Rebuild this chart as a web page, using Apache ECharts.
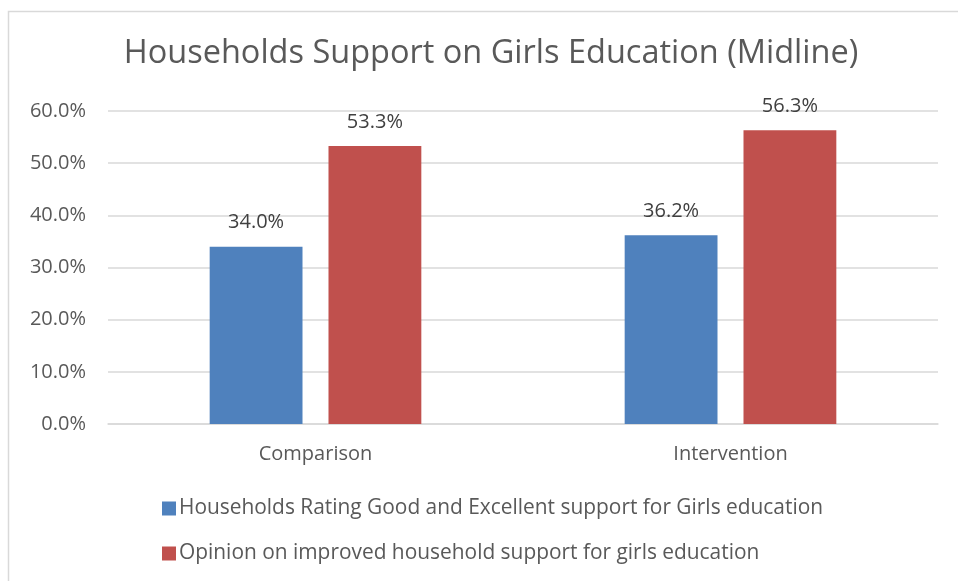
<!DOCTYPE html>
<html>
<head>
<meta charset="utf-8">
<script src="https://cdn.jsdelivr.net/npm/echarts@6/dist/echarts.min.js"></script>
<style>html,body{margin:0;padding:0;background:#fff}#c{width:958px;height:581px}</style>
</head>
<body>
<div id="c"></div>
<script>
const titleText = 'Households Support on Girls Education (Midline)';
const categories = ['Comparison', 'Intervention'];
const seriesNames = [
  'Households Rating Good and Excellent support for Girls education',
  'Opinion on improved household support for girls education'
];
const ratingValues = [34.0, 36.2];
const opinionValues = [53.3, 56.3];
const yTicks = [0, 10, 20, 30, 40, 50, 60];

const font = '"Open Sans", sans-serif';
const chart = echarts.init(document.getElementById('c'), null, {renderer: 'canvas'});
chart.setOption({
  backgroundColor: '#fff',
  animation: false,
  graphic: [{
    type: 'rect', silent: true, z: -1,
    shape: {x: 8.5, y: 11.5, width: 1200, height: 1200},
    style: {fill: 'none', stroke: '#d9d9d9', lineWidth: 1.5}
  }],
  title: {
    text: titleText, left: 486, top: 32, textAlign: 'center',
    textStyle: {fontFamily: font, fontSize: 32.5, fontWeight: 'normal', color: '#595959'}
  },
  legend: {
    orient: 'vertical', left: 157, top: 493, itemWidth: 14, itemHeight: 14, itemGap: 24,
    icon: 'rect',
    textStyle: {fontFamily: font, fontSize: 20.9, color: '#595959', padding: [0, 0, 0, -2]},
    data: seriesNames
  },
  grid: {left: 108, right: 20, top: 111, bottom: 157, containLabel: false},
  xAxis: {
    type: 'category', data: categories,
    axisLine: {lineStyle: {color: '#d9d9d9', width: 1.5}},
    axisTick: {show: false},
    axisLabel: {fontFamily: font, fontSize: 20, color: '#595959', margin: 20}
  },
  yAxis: {
    type: 'value', min: yTicks[0], max: yTicks[yTicks.length - 1], interval: 10,
    axisLine: {show: false}, axisTick: {show: false},
    splitLine: {lineStyle: {color: '#d9d9d9', width: 1.5}},
    axisLabel: {fontFamily: font, fontSize: 20, color: '#595959', margin: 22,
      formatter: v => v.toFixed(1) + '%'}
  },
  series: [
    {
      name: seriesNames[0], type: 'bar', data: ratingValues,
      barGap: '28%', barCategoryGap: '49%',
      itemStyle: {color: '#4f81bd'},
      label: {show: true, position: 'top', distance: 14, fontFamily: font, fontSize: 20, color: '#404040',
        formatter: p => p.value.toFixed(1) + '%'}
    },
    {
      name: seriesNames[1], type: 'bar', data: opinionValues,
      barGap: '28%', barCategoryGap: '49%',
      itemStyle: {color: '#c0504d'},
      label: {show: true, position: 'top', distance: 14, fontFamily: font, fontSize: 20, color: '#404040',
        formatter: p => p.value.toFixed(1) + '%'}
    }
  ]
});
</script>
</body>
</html>
